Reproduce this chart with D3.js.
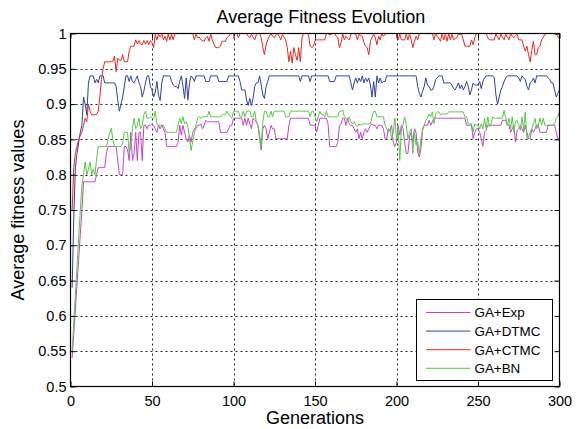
<!DOCTYPE html>
<html>
<head>
<meta charset="utf-8">
<script src="https://cdn.jsdelivr.net/npm/d3@7/dist/d3.min.js"></script>
<style>
  html, body { margin: 0; padding: 0; background: #fff; }
  svg { display: block; font-family: "Liberation Sans", Arial, Helvetica, sans-serif; }
</style>
</head>
<body>
<svg id="chart" width="581" height="429"></svg>
<script>
// Average fitness per generation for each algorithm (generations 1..300)
const seriesNames = ["GA+Exp", "GA+DTMC", "GA+CTMC", "GA+BN"];

const gaExp = [
  0.54,0.575,0.61,0.645,0.68,0.715,0.75,0.79,0.79,0.79,
  0.79,0.79,0.79,0.79,0.79,0.80,0.81,0.81,0.81,0.81,
  0.81,0.83,0.84,0.84,0.84,0.84,0.84,0.84,0.82,0.80,
  0.80,0.80,0.84,0.84,0.835,0.82,0.86,0.82,0.83,0.86,
  0.82,0.86,0.86,0.82,0.87,0.87,0.865,0.87,0.87,0.872,
  0.87,0.865,0.86,0.87,0.865,0.87,0.865,0.86,0.84,0.84,
  0.84,0.84,0.84,0.84,0.84,0.846,0.87,0.856,0.87,0.86,
  0.851,0.846,0.856,0.846,0.86,0.865,0.865,0.87,0.87,0.872,
  0.865,0.87,0.877,0.875,0.875,0.875,0.875,0.875,0.875,0.875,
  0.875,0.86,0.86,0.86,0.86,0.86,0.865,0.87,0.87,0.88,
  0.88,0.88,0.88,0.88,0.88,0.87,0.88,0.87,0.88,0.872,
  0.865,0.88,0.877,0.875,0.87,0.851,0.835,0.865,0.87,0.865,
  0.851,0.86,0.87,0.865,0.865,0.851,0.851,0.851,0.851,0.851,
  0.851,0.851,0.851,0.87,0.88,0.88,0.88,0.88,0.88,0.88,
  0.88,0.88,0.88,0.88,0.88,0.88,0.87,0.87,0.87,0.87,
  0.86,0.87,0.88,0.88,0.88,0.88,0.88,0.872,0.84,0.84,
  0.84,0.84,0.84,0.846,0.87,0.872,0.88,0.88,0.87,0.88,
  0.872,0.87,0.87,0.865,0.86,0.865,0.851,0.86,0.851,0.86,
  0.865,0.86,0.865,0.87,0.872,0.87,0.87,0.865,0.87,0.87,
  0.87,0.865,0.851,0.851,0.865,0.863,0.87,0.846,0.84,0.846,
  0.87,0.856,0.87,0.865,0.846,0.83,0.83,0.853,0.86,0.846,
  0.865,0.86,0.832,0.825,0.837,0.865,0.87,0.87,0.87,0.877,
  0.87,0.875,0.88,0.88,0.88,0.88,0.88,0.88,0.88,0.88,
  0.88,0.88,0.88,0.88,0.88,0.88,0.88,0.88,0.88,0.88,
  0.88,0.88,0.87,0.87,0.87,0.87,0.851,0.86,0.865,0.865,
  0.86,0.851,0.84,0.86,0.863,0.87,0.87,0.87,0.87,0.87,
  0.87,0.87,0.87,0.87,0.877,0.877,0.877,0.87,0.87,0.86,
  0.865,0.87,0.846,0.863,0.865,0.87,0.865,0.86,0.87,0.86,
  0.851,0.851,0.865,0.86,0.865,0.87,0.87,0.86,0.86,0.86,
  0.86,0.86,0.87,0.87,0.87,0.87,0.87,0.86,0.851,0.851
];

const gaDtmc = [
  0.64,0.74,0.81,0.83,0.845,0.86,0.87,0.91,0.90,0.885,
  0.93,0.94,0.94,0.94,0.93,0.935,0.93,0.94,0.94,0.94,
  0.93,0.93,0.93,0.93,0.93,0.93,0.93,0.925,0.905,0.89,
  0.90,0.91,0.925,0.94,0.94,0.932,0.94,0.932,0.93,0.935,
  0.94,0.93,0.925,0.91,0.918,0.93,0.94,0.94,0.925,0.92,
  0.91,0.917,0.932,0.913,0.905,0.93,0.94,0.94,0.94,0.94,
  0.94,0.932,0.927,0.925,0.925,0.922,0.932,0.94,0.925,0.908,
  0.937,0.906,0.93,0.94,0.937,0.932,0.94,0.94,0.94,0.94,
  0.94,0.94,0.932,0.932,0.932,0.94,0.94,0.94,0.94,0.94,
  0.932,0.932,0.932,0.932,0.932,0.932,0.94,0.94,0.94,0.94,
  0.94,0.94,0.94,0.932,0.92,0.92,0.92,0.906,0.898,0.908,
  0.898,0.908,0.925,0.93,0.93,0.94,0.927,0.913,0.908,0.925,
  0.932,0.94,0.94,0.94,0.94,0.94,0.94,0.94,0.94,0.94,
  0.94,0.94,0.94,0.94,0.94,0.94,0.94,0.94,0.94,0.94,
  0.932,0.94,0.94,0.94,0.94,0.94,0.932,0.94,0.94,0.94,
  0.94,0.94,0.94,0.94,0.94,0.94,0.94,0.94,0.932,0.932,
  0.932,0.932,0.94,0.94,0.94,0.94,0.94,0.94,0.94,0.94,
  0.94,0.93,0.92,0.93,0.937,0.93,0.937,0.932,0.94,0.93,
  0.937,0.932,0.937,0.927,0.91,0.932,0.91,0.94,0.93,0.937,
  0.93,0.932,0.932,0.94,0.94,0.94,0.94,0.94,0.94,0.94,
  0.94,0.94,0.94,0.94,0.94,0.94,0.94,0.94,0.94,0.94,
  0.94,0.94,0.925,0.915,0.91,0.918,0.925,0.937,0.927,0.925,
  0.92,0.92,0.925,0.935,0.937,0.94,0.94,0.94,0.93,0.93,
  0.93,0.93,0.93,0.927,0.922,0.92,0.925,0.93,0.922,0.927,
  0.92,0.925,0.932,0.925,0.913,0.92,0.93,0.927,0.927,0.927,
  0.932,0.922,0.932,0.937,0.94,0.94,0.94,0.94,0.94,0.937,
  0.913,0.90,0.91,0.92,0.925,0.932,0.937,0.94,0.94,0.94,
  0.94,0.94,0.94,0.94,0.937,0.932,0.94,0.937,0.935,0.925,
  0.92,0.93,0.932,0.937,0.93,0.94,0.94,0.94,0.94,0.94,
  0.94,0.94,0.937,0.935,0.93,0.93,0.92,0.91,0.915,0.92
];

const gaCtmc = [
  0.75,0.81,0.83,0.84,0.85,0.855,0.86,0.87,0.88,0.875,
  0.90,0.89,0.885,0.885,0.885,0.885,0.89,0.91,0.935,0.95,
  0.96,0.96,0.96,0.96,0.96,0.96,0.968,0.946,0.965,0.962,
  0.962,0.97,0.96,0.96,0.96,0.975,0.982,0.982,0.982,0.991,
  0.985,0.99,0.985,0.984,0.99,0.985,0.99,0.984,0.99,0.987,
  0.98,0.999,0.991,0.999,0.995,0.999,0.991,0.996,0.989,0.999,
  0.991,0.999,0.991,1,1,1,1,1,1,1,
  1,1,1,1,1,0.991,0.999,0.994,0.995,0.991,
  0.99,0.989,0.994,0.996,0.989,0.999,0.991,0.985,0.98,0.98,
  0.98,0.982,0.989,0.989,0.989,0.994,0.996,0.999,1,1,
  1,1,0.994,1,1,1,1,1,0.996,0.994,
  0.999,0.995,0.991,0.998,1,1,0.994,0.98,0.97,0.984,
  0.991,0.996,1,0.996,0.994,0.998,1,0.996,0.991,0.999,
  0.995,0.991,0.98,0.96,0.975,0.958,0.98,0.97,0.962,0.98,
  0.96,0.994,1,1,1,0.999,0.982,0.98,0.982,0.99,
  0.991,0.991,0.991,0.991,0.991,0.991,1,1,0.998,0.999,
  1,1,0.996,0.994,0.98,0.987,0.999,0.991,0.996,0.993,
  0.991,0.999,1,1,0.999,0.991,0.999,0.997,0.996,0.987,
  0.982,0.98,0.97,0.989,0.995,0.999,0.994,0.984,0.996,0.991,
  1,0.996,0.999,1,1,1,1,1,1,1,
  0.991,0.999,0.991,0.991,0.991,0.999,0.991,0.999,0.991,0.98,
  0.989,0.996,0.991,1,1,1,1,1,1,1,
  1,1,0.991,1,0.996,0.993,0.989,1,0.991,0.999,
  0.989,1,0.991,0.999,0.991,0.993,0.994,0.999,0.999,0.999,
  0.991,0.982,0.982,0.982,0.982,0.991,0.984,0.994,1,1,
  1,1,1,1,1,0.994,0.991,0.991,0.991,0.991,
  1,0.995,0.991,0.999,0.995,0.991,0.999,0.995,0.991,1,
  0.996,0.994,0.997,0.999,0.991,0.991,0.991,0.982,0.975,0.982,
  0.97,0.96,0.977,0.989,0.97,0.97,0.98,0.982,0.991,0.994,
  0.999,1,1,1,1,1,1,1,0.995,0.994
];

const gaBn = [
  0.55,0.59,0.63,0.67,0.71,0.75,0.785,0.80,0.818,0.80,
  0.808,0.818,0.80,0.808,0.80,0.822,0.84,0.84,0.84,0.84,
  0.84,0.84,0.85,0.858,0.866,0.85,0.84,0.84,0.84,0.84,
  0.84,0.845,0.86,0.86,0.86,0.83,0.84,0.865,0.88,0.865,
  0.87,0.88,0.865,0.87,0.885,0.89,0.88,0.88,0.882,0.88,
  0.88,0.89,0.872,0.87,0.87,0.87,0.87,0.865,0.86,0.86,
  0.86,0.86,0.86,0.86,0.86,0.87,0.88,0.872,0.882,0.872,
  0.875,0.868,0.851,0.834,0.848,0.858,0.87,0.88,0.882,0.88,
  0.882,0.882,0.882,0.882,0.89,0.882,0.882,0.882,0.882,0.882,
  0.882,0.882,0.885,0.885,0.885,0.89,0.885,0.882,0.88,0.89,
  0.89,0.89,0.89,0.882,0.882,0.89,0.882,0.89,0.89,0.89,
  0.882,0.882,0.89,0.875,0.87,0.856,0.84,0.875,0.89,0.89,
  0.882,0.882,0.89,0.882,0.89,0.89,0.89,0.89,0.89,0.89,
  0.89,0.882,0.882,0.882,0.89,0.89,0.89,0.89,0.89,0.89,
  0.89,0.89,0.89,0.89,0.89,0.89,0.882,0.89,0.89,0.882,
  0.875,0.882,0.89,0.885,0.885,0.882,0.89,0.882,0.882,0.882,
  0.882,0.882,0.882,0.882,0.89,0.89,0.892,0.882,0.88,0.877,
  0.882,0.875,0.872,0.875,0.87,0.868,0.872,0.87,0.872,0.872,
  0.872,0.872,0.872,0.872,0.882,0.89,0.89,0.882,0.882,0.882,
  0.882,0.882,0.87,0.865,0.86,0.865,0.851,0.86,0.88,0.85,
  0.865,0.82,0.865,0.87,0.882,0.87,0.851,0.86,0.865,0.83,
  0.86,0.842,0.846,0.83,0.851,0.863,0.87,0.877,0.88,0.886,
  0.882,0.889,0.872,0.886,0.889,0.889,0.885,0.886,0.886,0.886,
  0.886,0.889,0.889,0.889,0.889,0.889,0.889,0.889,0.889,0.889,
  0.889,0.882,0.882,0.872,0.872,0.872,0.86,0.872,0.87,0.87,
  0.865,0.872,0.865,0.88,0.865,0.882,0.868,0.872,0.882,0.88,
  0.88,0.88,0.88,0.88,0.88,0.891,0.88,0.87,0.88,0.865,
  0.882,0.86,0.875,0.877,0.87,0.863,0.882,0.863,0.889,0.851,
  0.853,0.86,0.865,0.872,0.88,0.865,0.87,0.88,0.87,0.88,
  0.87,0.87,0.87,0.87,0.87,0.87,0.872,0.88,0.882,0.89
];

const seriesValues = [gaExp, gaDtmc, gaCtmc, gaBn];
const seriesColors = ["#c444c4", "#2b43a3", "#e4291f", "#58c846"];

const xTicks = [0, 50, 100, 150, 200, 250, 300];
const yTicks = [0.5, 0.55, 0.6, 0.65, 0.7, 0.75, 0.8, 0.85, 0.9, 0.95, 1];
const yTickLabels = ["0.5", "0.55", "0.6", "0.65", "0.7", "0.75", "0.8", "0.85", "0.9", "0.95", "1"];

const svg = d3.select("#chart");
const plot = { left: 70.5, right: 559.5, top: 33.5, bottom: 386.5 };

const x = d3.scaleLinear().domain([0, 300]).range([plot.left, plot.right]);
const y = d3.scaleLinear().domain([0.5, 1]).range([plot.bottom, plot.top]);

// dotted grid
const grid = svg.append("g").attr("stroke", "#222").attr("stroke-width", 1)
  .attr("stroke-dasharray", "2,3");
xTicks.slice(1, -1).forEach(t => {
  grid.append("line").attr("x1", Math.round(x(t)) + 0.5).attr("x2", Math.round(x(t)) + 0.5)
    .attr("y1", plot.top).attr("y2", plot.bottom);
});
yTicks.slice(1, -1).forEach(t => {
  grid.append("line").attr("y1", Math.round(y(t)) + 0.5).attr("y2", Math.round(y(t)) + 0.5)
    .attr("x1", plot.left).attr("x2", plot.right);
});

// series lines
const line = d3.line()
  .x((d, i) => x(i + 1))
  .y(d => y(d));

svg.append("defs").append("clipPath").attr("id", "plotClip")
  .append("rect").attr("x", plot.left).attr("y", plot.top - 1)
  .attr("width", plot.right - plot.left).attr("height", plot.bottom - plot.top + 1);

const linesG = svg.append("g").attr("clip-path", "url(#plotClip)");
seriesValues.forEach((vals, k) => {
  linesG.append("path")
    .datum(vals)
    .attr("fill", "none")
    .attr("stroke", seriesColors[k])
    .attr("stroke-width", 1)
    .attr("stroke-linejoin", "round")
    .attr("d", line);
});

// axes with inward ticks on all four sides
const bottomAxis = d3.axisBottom(x).tickValues(xTicks).tickSize(-5).tickPadding(9).tickFormat(d3.format("d"));
const leftAxis = d3.axisLeft(y).tickValues(yTicks).tickSize(-5).tickPadding(4)
  .tickFormat((d, i) => yTickLabels[i]);
const topAxis = d3.axisTop(x).tickValues(xTicks).tickSize(-5).tickFormat("");
const rightAxis = d3.axisRight(y).tickValues(yTicks).tickSize(-5).tickFormat("");

function styleAxis(g) {
  g.select(".domain").remove();
  g.selectAll(".tick line").attr("stroke", "#000");
  g.selectAll(".tick text").attr("fill", "#000").style("font-size", "14.5px")
    .style("font-family", '"Liberation Sans", Arial, sans-serif');
}

svg.append("g").attr("transform", `translate(0,${plot.bottom})`).call(bottomAxis).call(styleAxis);
svg.append("g").attr("transform", `translate(${plot.left},0)`).call(leftAxis).call(styleAxis);
svg.append("g").attr("transform", `translate(0,${plot.top})`).call(topAxis).call(styleAxis);
svg.append("g").attr("transform", `translate(${plot.right},0)`).call(rightAxis).call(styleAxis);

// frame
svg.append("rect")
  .attr("x", plot.left).attr("y", plot.top)
  .attr("width", plot.right - plot.left).attr("height", plot.bottom - plot.top)
  .attr("fill", "none").attr("stroke", "#000").attr("stroke-width", 1.2);

// title and axis labels
svg.append("text").attr("x", (plot.left + plot.right) / 2 + 6).attr("y", 23)
  .attr("text-anchor", "middle").style("font-size", "18px").text("Average Fitness Evolution");
svg.append("text").attr("x", (plot.left + plot.right) / 2).attr("y", 424)
  .attr("text-anchor", "middle").style("font-size", "18px").text("Generations");
svg.append("text")
  .attr("transform", `translate(24,${(plot.top + plot.bottom) / 2}) rotate(-90)`)
  .attr("text-anchor", "middle").style("font-size", "18px").text("Average fitness values");

// legend
const legend = svg.append("g").attr("transform", "translate(416.5,299.5)");
legend.append("rect").attr("width", 136).attr("height", 81)
  .attr("fill", "#fff").attr("stroke", "#000").attr("stroke-width", 1);
seriesNames.forEach((name, k) => {
  const ry = 13 + k * 18.6;
  legend.append("line").attr("x1", 9.5).attr("x2", 54).attr("y1", ry).attr("y2", ry)
    .attr("stroke", seriesColors[k]).attr("stroke-width", 1);
  legend.append("text").attr("x", 58).attr("y", ry + 4.8)
    .style("font-size", "13.4px").text(name);
});
</script>
</body>
</html>
